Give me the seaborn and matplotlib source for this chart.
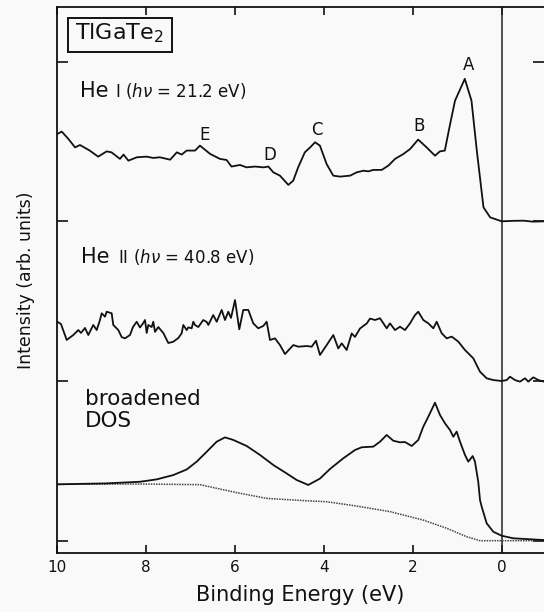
import matplotlib
matplotlib.use("Agg")
import matplotlib.pyplot as plt
import pandas as pd
import seaborn as sns
from matplotlib.patches import Rectangle

# He I photoemission spectrum (hv = 21.2 eV), binding energy in eV
he1_energy = [10.00, 9.90, 9.75, 9.60, 9.49, 9.27, 9.08, 8.89, 8.78, 8.59, 8.51, 8.40,
              8.21, 7.99, 7.84, 7.69, 7.46, 7.31, 7.20, 7.09, 6.90, 6.79, 6.56, 6.34,
              6.19, 6.08, 5.89, 5.74, 5.55, 5.36, 5.25, 5.14, 4.99, 4.80, 4.69, 4.58,
              4.43, 4.31, 4.20, 4.09, 3.94, 3.79, 3.64, 3.41, 3.26, 3.11, 3.00, 2.89,
              2.70, 2.55, 2.40, 2.21, 2.06, 1.88, 1.69, 1.50, 1.39, 1.28, 1.16, 1.05,
              0.83, 0.68, 0.56, 0.41, 0.26, 0.00, -0.25, -0.49, -0.70, -0.95]
he1_intensity = [0.547, 0.562, 0.516, 0.463, 0.478, 0.443, 0.405, 0.438, 0.432, 0.391, 0.418, 0.380,
                 0.401, 0.405, 0.397, 0.401, 0.386, 0.432, 0.418, 0.443, 0.443, 0.474, 0.422, 0.391,
                 0.384, 0.343, 0.353, 0.338, 0.343, 0.338, 0.343, 0.307, 0.286, 0.228, 0.255, 0.338,
                 0.432, 0.463, 0.495, 0.474, 0.359, 0.286, 0.280, 0.286, 0.307, 0.317, 0.313, 0.322,
                 0.322, 0.349, 0.391, 0.422, 0.453, 0.512, 0.463, 0.411, 0.438, 0.443, 0.610, 0.756,
                 0.892, 0.756, 0.443, 0.088, 0.025, 0.000, 0.003, 0.004, -0.002, 0.000]

# He II photoemission spectrum (hv = 40.8 eV)
he2_energy = [10.000, 9.917, 9.788, 9.640, 9.527, 9.467, 9.377, 9.302, 9.190, 9.113, 9.039, 9.001,
              8.926, 8.888, 8.776, 8.740, 8.627, 8.551, 8.477, 8.364, 8.297, 8.213, 8.139, 8.065,
              8.026, 7.988, 7.952, 7.876, 7.840, 7.801, 7.727, 7.615, 7.502, 7.390, 7.277, 7.201,
              7.165, 7.088, 7.052, 6.976, 6.940, 6.901, 6.827, 6.715, 6.638, 6.602, 6.490, 6.413,
              6.301, 6.226, 6.152, 6.091, 6.001, 5.905, 5.815, 5.702, 5.590, 5.477, 5.364, 5.288,
              5.214, 5.101, 4.989, 4.876, 4.689, 4.577, 4.388, 4.275, 4.179, 4.089, 3.938, 3.789,
              3.677, 3.600, 3.488, 3.375, 3.301, 3.188, 3.038, 2.963, 2.851, 2.738, 2.588, 2.513,
              2.401, 2.288, 2.176, 2.063, 1.951, 1.877, 1.764, 1.651, 1.539, 1.463, 1.350, 1.238,
              1.125, 0.977, 0.826, 0.639, 0.488, 0.338, 0.189, 0.000, -0.113, -0.187, -0.299,
              -0.412, -0.524, -0.599, -0.711, -0.824, -0.952]
he2_intensity = [0.371, 0.357, 0.257, 0.288, 0.319, 0.301, 0.332, 0.288, 0.351, 0.319, 0.382, 0.424,
                 0.403, 0.434, 0.424, 0.351, 0.319, 0.275, 0.267, 0.288, 0.338, 0.371, 0.335, 0.363,
                 0.382, 0.301, 0.351, 0.338, 0.371, 0.308, 0.338, 0.301, 0.238, 0.246, 0.269, 0.299,
                 0.351, 0.319, 0.336, 0.330, 0.371, 0.351, 0.338, 0.382, 0.370, 0.351, 0.413, 0.371,
                 0.445, 0.382, 0.434, 0.395, 0.507, 0.324, 0.445, 0.445, 0.361, 0.330, 0.345, 0.371,
                 0.257, 0.267, 0.225, 0.169, 0.225, 0.215, 0.219, 0.215, 0.252, 0.163, 0.225, 0.288,
                 0.204, 0.236, 0.194, 0.298, 0.276, 0.329, 0.360, 0.391, 0.382, 0.393, 0.330, 0.361,
                 0.319, 0.340, 0.319, 0.361, 0.413, 0.434, 0.382, 0.361, 0.330, 0.371, 0.299, 0.267,
                 0.278, 0.247, 0.194, 0.142, 0.058, 0.017, 0.006, 0.000, 0.006, 0.027, 0.006,
                 -0.004, 0.017, -0.004, 0.023, 0.006, -0.004]

# Broadened density of states
dos_energy = [10.00, 8.888, 8.139, 7.763, 7.390, 7.088, 6.863, 6.638, 6.413, 6.226, 6.040, 5.738,
              5.439, 5.139, 4.838, 4.613, 4.352, 4.089, 3.864, 3.564, 3.301, 3.150, 2.889, 2.738,
              2.588, 2.439, 2.288, 2.176, 2.025, 1.877, 1.764, 1.652, 1.501, 1.388, 1.276, 1.163,
              1.089, 1.013, 0.938, 0.826, 0.752, 0.653, 0.601, 0.527, 0.488, 0.450, 0.338, 0.189,
              0.000, -0.261, -0.952]
dos_intensity = [0.353, 0.359, 0.369, 0.384, 0.411, 0.446, 0.495, 0.557, 0.620, 0.647, 0.631, 0.593,
                 0.537, 0.474, 0.421, 0.380, 0.349, 0.389, 0.449, 0.516, 0.568, 0.585, 0.589, 0.620,
                 0.662, 0.626, 0.616, 0.618, 0.593, 0.631, 0.714, 0.776, 0.864, 0.787, 0.735, 0.693,
                 0.651, 0.683, 0.620, 0.537, 0.495, 0.530, 0.495, 0.368, 0.255, 0.213, 0.109, 0.056,
                 0.031, 0.015, 0.004]

# Integrated (background) curve drawn dotted under the DOS
bg_energy = [10.0, 8.139, 6.789, 6.413, 5.963, 5.288, 4.388, 3.938, 3.263, 2.513, 1.764, 1.238,
             0.788, 0.488, 0.000, -0.952]
bg_intensity = [0.353, 0.355, 0.351, 0.328, 0.301, 0.265, 0.250, 0.244, 0.217, 0.182, 0.129, 0.078,
                0.025, 0.000, 0.000, 0.000]

# vertical offsets of the stacked spectra
offsets = {"He I": 2.0, "He II": 1.0, "DOS": 0.0}

# peak labels on the He I spectrum
peak_names = ["A", "B", "C", "D", "E"]
peak_label_energy = [0.75, 1.857, 4.163, 5.22, 6.676]
peak_label_height = [2.979, 2.595, 2.574, 2.415, 2.542]

x_ticks = [10, 8, 6, 4, 2, 0]

sns.set_theme(style="ticks")
plt.rcParams["font.family"] = ["DejaVu Sans"]
plt.rcParams["mathtext.fontset"] = "dejavusans"

bg = "#f9f9f9"
ink = "#111111"
fig = plt.figure(figsize=(5.44, 6.12), dpi=100, facecolor=bg)
ax = fig.add_axes([0.1053, 0.0959, 0.8947, 0.8921])
ax.set_facecolor(bg)

def frame(e, i, off):
    return pd.DataFrame({"energy": e, "y": [v + off for v in i]})

line_kw = dict(x="energy", y="y", sort=False, estimator=None, ax=ax, legend=False)
sns.lineplot(data=frame(he1_energy, he1_intensity, offsets["He I"]), color=ink, lw=1.3, **line_kw)
sns.lineplot(data=frame(he2_energy, he2_intensity, offsets["He II"]), color=ink, lw=1.3, **line_kw)
sns.lineplot(data=frame(bg_energy, bg_intensity, offsets["DOS"]), color="#444444", lw=1.1,
             linestyle=(0, (1, 0.7)), **line_kw)
sns.lineplot(data=frame(dos_energy, dos_intensity, offsets["DOS"]), color=ink, lw=1.3, **line_kw)

ax.axvline(0, color="#222222", lw=1.1, zorder=1)

ax.set_xlim(10, -0.952)
ax.set_ylim(-0.079, 3.340)
ax.set_xticks(x_ticks)
ax.set_xticklabels([str(t) for t in x_ticks])
ax.set_yticks([0, 1, 2, 3])
ax.set_yticklabels([])

for side in ["left", "bottom", "top"]:
    ax.spines[side].set_linewidth(1.3)
    ax.spines[side].set_color(ink)
ax.spines["right"].set_visible(False)

ax.tick_params(axis="x", direction="in", length=6, width=1.2, top=True, bottom=True,
               labelsize=11, pad=5, colors=ink)
ax.tick_params(axis="y", direction="in", length=8, width=1.2, left=True, right=True,
               colors=ink)

ax.set_xlabel("Binding Energy (eV)", fontsize=15, color=ink)
ax.xaxis.set_label_coords(0.5, -0.058)
ax.set_ylabel("Intensity (arb. units)", fontsize=12.5, color=ink)
ax.yaxis.set_label_coords(-0.045, 0.5)

# sample name in a framed box
ax.add_patch(Rectangle((0.0226, 0.9187), 0.2125, 0.0612, transform=ax.transAxes,
                       fill=False, lw=1.4, edgecolor=ink, zorder=3))
ax.text(8.60, 3.140, r"TlGaTe$_2$", fontsize=16, ha="center", va="baseline", color=ink)

# spectrum labels
ax.text(9.49, 2.780, "He", fontsize=15, ha="left", va="baseline", color=ink)
ax.text(8.702, 2.780, r"I ($h\nu$ = 21.2 eV)", fontsize=12, ha="left", va="baseline", color=ink)
ax.text(9.474, 1.741, "He", fontsize=15, ha="left", va="baseline", color=ink)
ax.text(8.634, 1.741, r"II ($h\nu$ = 40.8 eV)", fontsize=12, ha="left", va="baseline", color=ink)
ax.text(9.377, 0.850, "broadened", fontsize=15.5, ha="left", va="baseline", color=ink)
ax.text(9.377, 0.714, "DOS", fontsize=15.5, ha="left", va="baseline", color=ink)

for name, e, h in zip(peak_names, peak_label_energy, peak_label_height):
    ax.text(e, h, name, fontsize=12, ha="center", va="center", color=ink)

fig.savefig("out.png", dpi=100, facecolor=bg)
